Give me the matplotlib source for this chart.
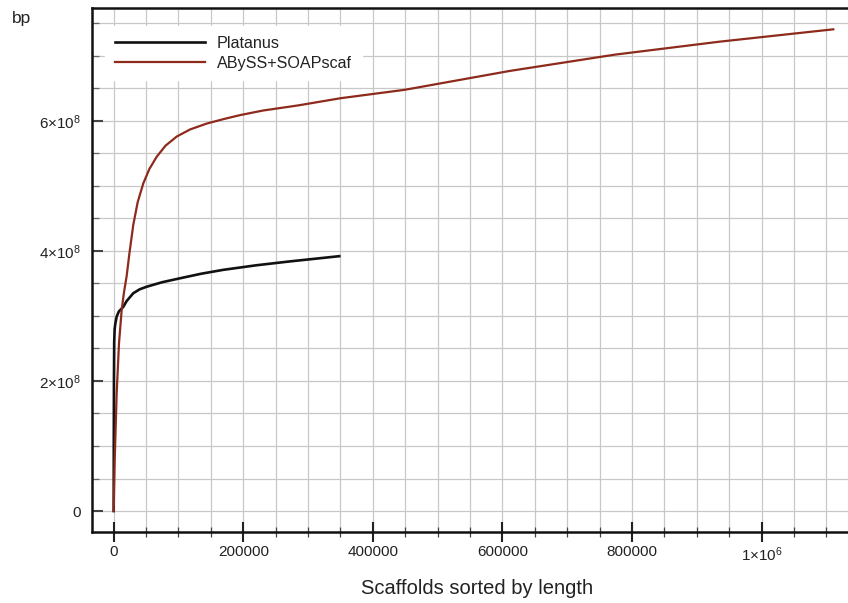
import matplotlib
matplotlib.use("Agg")
import matplotlib.pyplot as plt
from matplotlib.ticker import MultipleLocator

plt.rcParams['font.family'] = ['Liberation Sans', 'DejaVu Sans']
plt.rcParams['mathtext.default'] = 'regular'

# ---- data ----
platanus_x = [0, 150, 400, 800, 1500, 2500, 4600, 8000, 14800, 20000, 30200, 40000,
              50900, 75000, 102300, 135000, 169100, 220000, 272100, 348100]
platanus_y = [0, 1.0e8, 2.0e8, 2.6e8, 2.8e8, 2.88e8, 2.99e8, 3.07e8, 3.14e8, 3.23e8,
              3.35e8, 3.41e8, 3.45e8, 3.52e8, 3.58e8, 3.65e8, 3.71e8, 3.78e8, 3.84e8, 3.92e8]

abyss_x = [0, 1500, 4600, 8200, 12300, 16000, 20100, 24100, 30200, 37000, 45700, 55000,
           66400, 80000, 97200, 118000, 143500, 170000, 194900, 230000, 285000, 350000,
           449400, 611300, 773100, 935000, 1110500]
abyss_y = [0, 0.75e8, 1.81e8, 2.58e8, 3.09e8, 3.37e8, 3.62e8, 3.95e8, 4.4e8, 4.75e8, 5.04e8,
           5.26e8, 5.45e8, 5.62e8, 5.76e8, 5.87e8, 5.96e8, 6.03e8, 6.09e8, 6.16e8, 6.24e8,
           6.35e8, 6.48e8, 6.77e8, 7.02e8, 7.22e8, 7.41e8]

series_names = ['Platanus', 'ABySS+SOAPscaf']

xtick_values = [0, 200000, 400000, 600000, 800000, 1000000]
xtick_labels = ['0', '200000', '400000', '600000', '800000', r'1$\times$10$^{6}$']
ytick_values = [0, 2e8, 4e8, 6e8]
ytick_labels = ['0', r'2$\times$10$^{8}$', r'4$\times$10$^{8}$', r'6$\times$10$^{8}$']

# ---- figure ----
W, H = 848, 603
fig = plt.figure(figsize=(W / 100, H / 100), dpi=100)
left, right, top, bottom = 92.3, 848, 8, 532
ax = fig.add_axes([left / W, 1 - bottom / H, (right - left) / W, (bottom - top) / H])

ax.plot(platanus_x, platanus_y, color='#111111', lw=1.9, label=series_names[0], zorder=3,
        solid_joinstyle='round')
ax.plot(abyss_x, abyss_y, color='#8e2a1c', lw=1.6, label=series_names[1], zorder=3,
        solid_joinstyle='round')

ax.set_xlim(-33000, 1133200)
ax.set_ylim(-3.23e7, 7.738e8)

ax.set_xticks(xtick_values)
ax.set_xticklabels(xtick_labels)
ax.set_yticks(ytick_values)
ax.set_yticklabels(ytick_labels)
ax.xaxis.set_minor_locator(MultipleLocator(50000))
ax.yaxis.set_minor_locator(MultipleLocator(0.5e8))

ax.grid(True, which='both', color='#c8c8c8', lw=0.9, zorder=0)
ax.set_axisbelow(True)

ax.tick_params(axis='x', which='major', direction='inout', length=15, width=1.5,
               labelsize=11, pad=2, colors='#222222')
ax.tick_params(axis='x', which='minor', direction='inout', length=7, width=0.9,
               colors='#444444')
ax.tick_params(axis='y', which='major', direction='in', length=8, width=1.5,
               labelsize=11, pad=8, colors='#444444', labelcolor='#222222')
ax.tick_params(axis='y', which='minor', direction='in', length=5, width=0.9,
               colors='#666666')

for s in ['left', 'bottom', 'top']:
    ax.spines[s].set_linewidth(1.8)
    ax.spines[s].set_color('#111111')
ax.spines['right'].set_visible(False)

leg = ax.legend(loc='upper left',
                bbox_to_anchor=((105 - left) / (right - left), 1 - (26 - top) / (bottom - top)),
                borderaxespad=0, frameon=True, fontsize=11.6, handlelength=5.6,
                handletextpad=0.75, labelspacing=0.31, borderpad=0.6)
leg.get_frame().set_edgecolor('white')
leg.get_frame().set_facecolor('white')
leg.get_frame().set_alpha(1)
leg.get_frame().set_boxstyle('square', pad=0)
for t in leg.get_texts():
    t.set_color('#222222')

fig.text(12 / W, 1 - 18 / H, 'bp', fontsize=12.5, color='#222222', ha='left', va='center')
fig.text(477 / W, 1 - 588 / H, 'Scaffolds sorted by length', fontsize=14.5,
         color='#222222', ha='center', va='center')

fig.savefig('out.png', dpi=100)
